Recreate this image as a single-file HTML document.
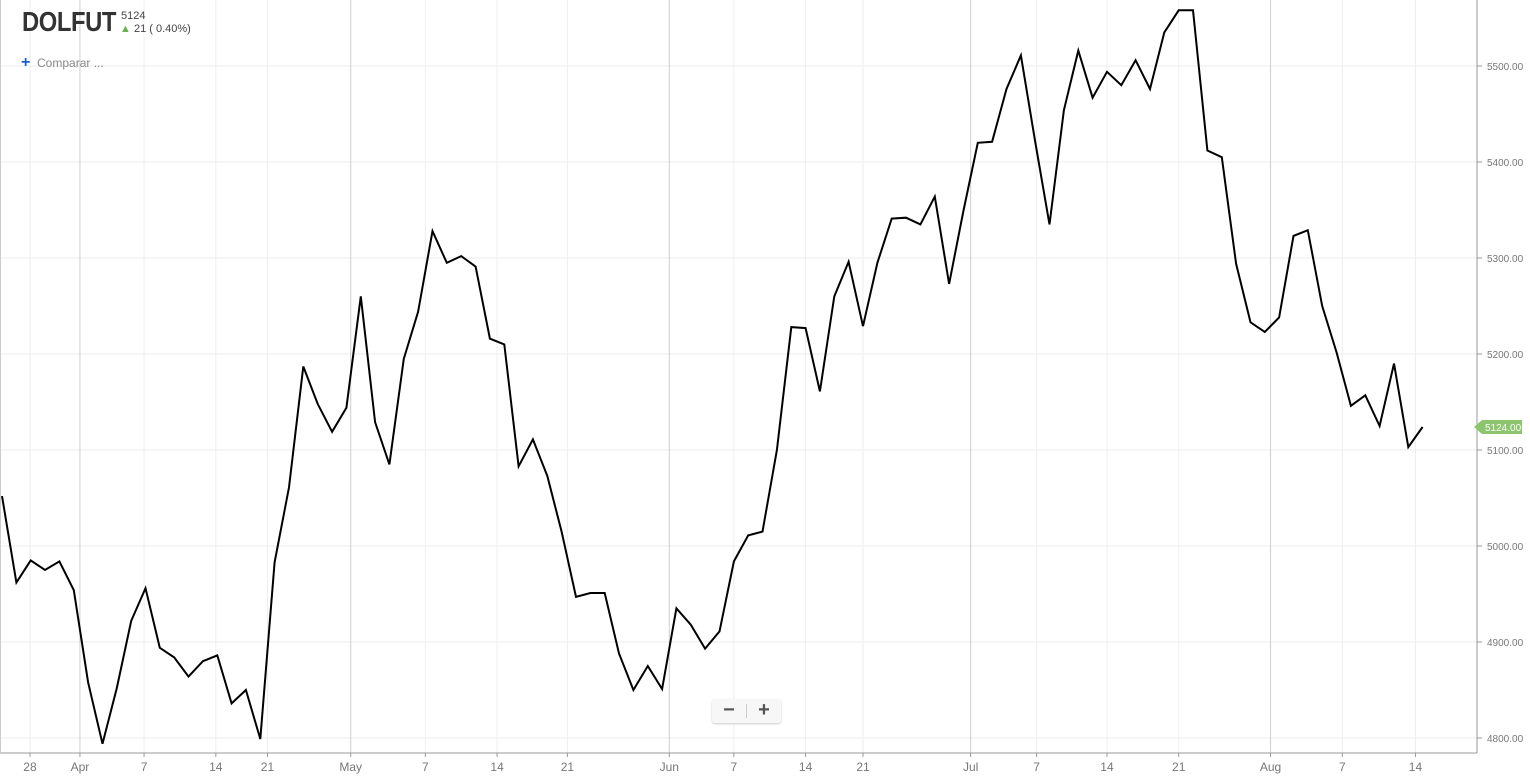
<!DOCTYPE html>
<html><head><meta charset="utf-8"><style>
body{margin:0;background:#fff;font-family:"Liberation Sans",sans-serif;}
#wrap{position:relative;width:1530px;height:780px;overflow:hidden;}
.hdr{position:absolute;}
</style></head><body>
<div id="wrap">
<svg id="chart" width="1530" height="780" style="position:absolute;left:0;top:0"></svg>
<div class="hdr" style="left:22px;top:6px;font-size:28px;font-weight:bold;color:#333;letter-spacing:-0.5px;transform:scaleX(0.85);transform-origin:left">DOLFUT</div>
<div class="hdr" style="left:121px;top:10px;font-size:11px;color:#444">5124</div>
<div class="hdr" style="left:120px;top:23px;font-size:11px;color:#444"><span style="color:#6ab04c">▲</span> 21 ( 0.40%)</div>
<div class="hdr" style="left:21px;top:54px;font-size:12px;color:#888;cursor:pointer"><span style="color:#1a5fd0;font-size:16px;font-weight:bold">+</span>&nbsp; Comparar ...</div>
<div class="hdr" style="left:712px;top:699px;width:69px;height:24px;background:#f7f7f7;border-radius:3px;box-shadow:0 1px 2px #ccc">
<div style="position:absolute;left:0;top:0;width:34px;height:24px;text-align:center;font-size:20px;line-height:22px;font-weight:bold;color:#555">−</div>
<div style="position:absolute;left:34px;top:5px;width:1px;height:14px;background:#ccc"></div>
<div style="position:absolute;left:35px;top:0;width:34px;height:24px;text-align:center;font-size:20px;line-height:22px;font-weight:bold;color:#555">+</div>
</div>
</div>
<script>
const values=[5052,4962,4985,4975,4984,4954,4858,4794,4852,4922,4956,4894,4884,4864,4880,4886,4836,4850,4799,4983,5061,5187,5148,5119,5144,5260,5129,5085,5195,5244,5328,5295,5302,5291,5216,5210,5083,5111,5073,5015,4947,4951,4951,4888,4850,4875,4851,4935,4918,4893,4911,4984,5011,5015,5100,5228,5227,5161,5260,5296,5229,5295,5341,5342,5335,5364,5273,5349,5420,5421,5476,5511,5421,5335,5454,5516,5467,5494,5480,5506,5476,5535,5558,5558,5412,5405,5294,5233,5223,5238,5323,5329,5250,5202,5146,5157,5125,5190,5103,5124];
const yTicks=[4800,4900,5000,5100,5200,5300,5400,5500];
const xTickLabels=["28","Apr","7","14","21","May","7","14","21","Jun","7","14","21","Jul","7","14","21","Aug","7","14"];
const xTickIdx=[1.95,5.43,9.9,14.9,18.5,24.3,29.5,34.5,39.4,46.5,51,56,60,67.5,72.1,77,82,88.4,93.4,98.5];
const monthTicks=["Apr","May","Jun","Jul","Aug"];
const lastValue=5124;

const svg=document.getElementById('chart');
const NS='http://www.w3.org/2000/svg';
const xS=i=>2+i*14.35;
const yS=v=>66+(5500-v)*0.96;
function mk(t,a){const e=document.createElementNS(NS,t);for(const k in a)e.setAttribute(k,a[k]);svg.appendChild(e);return e;}
yTicks.forEach(v=>{
  const l=mk('line',{x1:0,x2:1477,y1:yS(v),y2:yS(v),stroke:'#ebebeb','stroke-width':1});
  
  
  mk('line',{x1:1477,x2:1482,y1:yS(v),y2:yS(v),stroke:'#999'});
  const t=mk('text',{x:1487,y:yS(v)+4,'font-size':10,fill:'#777','font-family':'Liberation Sans, sans-serif'});
  t.textContent=v.toFixed(2);
  
  
});
xTickIdx.forEach((idx,k)=>{
  const x=xS(idx);const isM=monthTicks.includes(xTickLabels[k]);
  const l=mk('line',{x1:x,x2:x,y1:0,y2:753,stroke:isM?'#cfcfcf':'#eeeeee','stroke-width':1});
  
  
  mk('line',{x1:x,x2:x,y1:753,y2:757,stroke:'#999'});
  const t=mk('text',{x:x,y:771,'font-size':12,fill:'#777','text-anchor':'middle','font-family':'Liberation Sans, sans-serif'});
  t.textContent=xTickLabels[k];
  
  
});
const ax=mk('line',{x1:0,x2:1477,y1:753,y2:753,stroke:'#999'});


const ay=mk('line',{x1:1477,x2:1477,y1:0,y2:753,stroke:'#999'});


mk('line',{x1:0.5,x2:0.5,y1:0,y2:753,stroke:'#ccc'});
const pts=values.map((v,i)=>xS(i).toFixed(1)+','+yS(v).toFixed(1)).join(' ');
const pl=mk('polyline',{points:pts,fill:'none',stroke:'#000','stroke-width':2,'stroke-linejoin':'miter'});


const ly=yS(lastValue);
const tag=mk('path',{d:`M1474,${ly} L1482,${ly-7} L1522,${ly-7} L1522,${ly+7} L1482,${ly+7} Z`,fill:'#8cc56e'});


const tt=mk('text',{x:1485,y:ly+4,'font-size':10,fill:'#fff','font-family':'Liberation Sans, sans-serif'});
tt.textContent=lastValue.toFixed(2);


</script>
</body></html>
